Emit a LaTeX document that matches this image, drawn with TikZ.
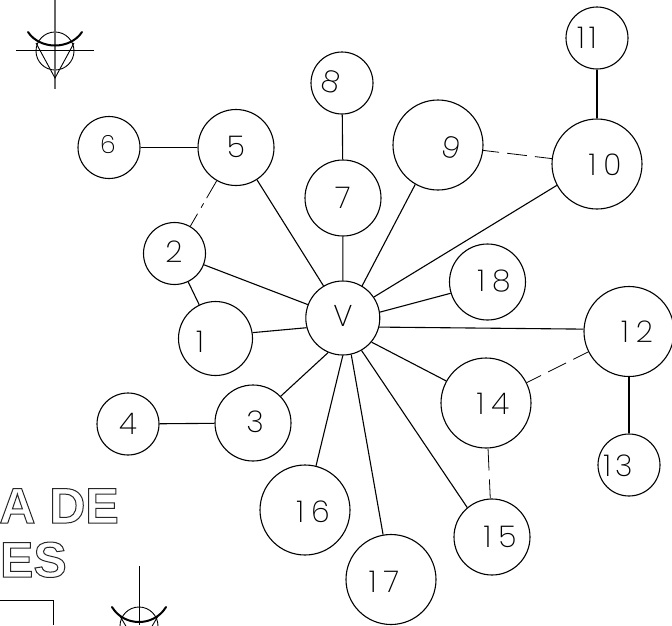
\documentclass[tikz,border=0pt]{standalone}
\usepackage{fontspec}
\setmainfont{Poppins ExtraLight}
\newfontfamily\titlefont{Liberation Sans Bold}
\tikzset{
  circ/.style={circle,draw,line width=1.1pt,inner sep=0pt,fill=white},
  lbl/.style={inner sep=0pt,font=\fontsize{30}{30}\selectfont,color=black},
  solidedge/.style={line width=1.1pt},
  dashedge/.style={line width=0.8pt},
  emblem/.style={line width=0.9pt},
  emblemthick/.style={line width=2pt,line cap=round},
  titletxt/.style={inner sep=0pt,anchor=base east,font=\titlefont\fontsize{50}{50}\selectfont},
}
\newcommand{\nd}[7]{%
  \node[circ,minimum size=#4*2pt] (#1) at (#2,#3) {};
  \node[lbl] (t#1) at (#6,#7) {#5};
}
\newcommand{\outl}[1]{\special{pdf:code q 1 Tr 1 w 0.15 G}#1\special{pdf:code Q}}
\newcommand{\gp}{\hspace{7pt}}
\begin{document}
\begin{tikzpicture}[x=1pt,y=-1pt]
\useasboundingbox (0,0) rectangle (672,625);
\clip (0,0) rectangle (672,625);
\nd{v}{342.8}{318}{37}{V}{343}{316}
\nd{a}{215.5}{338.5}{37}{1}{200}{342}
\nd{b}{174.5}{253.5}{31}{2}{174}{252}
\nd{c}{253}{423}{38}{3}{255}{422}
\nd{d}{128}{424}{31}{4}{128}{424}
\nd{e}{236}{147.5}{38}{5}{236}{147}
\nd{f}{109}{147.5}{31}{\fontsize{25}{25}\selectfont 6}{108}{145}
\nd{g}{343}{198}{38}{7}{343}{198}
\nd{h}{342}{83}{31}{\rotatebox{-15}{8}}{331}{82}
\nd{i}{438}{145}{45}{\rotatebox{-15}{9}}{451}{148}
\nd{j}{597}{164}{45}{1\gp 0}{605}{165}
\nd{k}{597}{38}{31}{1\hspace{4pt}1}{587}{38}
\nd{l}{629}{331.5}{45}{1\gp 2}{637}{332}
\nd{m}{629}{465}{31}{1\hspace{4pt}3}{618}{466}
\nd{n}{486}{403}{45}{1\gp 4}{493}{404}
\nd{o}{492}{537}{38}{1\gp 5}{500}{537}
\nd{p}{305}{510}{45}{1\gp 6}{313}{512}
\nd{q}{391}{579.5}{45}{1\gp 7}{384}{582}
\nd{r}{487.5}{282}{38}{1\gp 8}{494}{281}
\draw[solidedge] (v.195.5) -- (a.9.5);
\draw[solidedge] (v) -- (b);
\draw[solidedge] (v.247) -- (c.44);
\draw[solidedge] (v.121.5) -- (e.-57);
\draw[solidedge] (v) -- (g);
\draw[solidedge] (v.59) -- (i.240);
\draw[solidedge] (v.34) -- (j.208);
\draw[solidedge] (v.-14) -- (l.177.5);
\draw[solidedge] (v.-40) -- (n.151);
\draw[solidedge] (v.-60) -- (o.130);
\draw[solidedge] (v.-90) -- (p.76);
\draw[solidedge] (v.-77) -- (q.100);
\draw[solidedge] (v.9) -- (r.197);
\draw[solidedge] (b) -- (a);
\draw[solidedge] (e) -- (f);
\draw[solidedge] (c) -- (d);
\draw[solidedge] (g) -- (h);
\draw[solidedge] (j) -- (k);
\draw[solidedge] (l) -- (m);
\draw[dashedge,dash pattern=on 20pt off 6pt on 5pt off 7pt on 20pt] (e) -- (b);
\draw[dashedge,dash pattern=on 16pt off 8pt on 20pt off 8pt on 20pt] (i) -- (j);
\draw[dashedge,dash pattern=on 16pt off 8pt on 20pt off 8pt on 20pt] (n) -- (l);
\draw[dashedge,dash pattern=on 22pt off 9pt on 30pt] (n) -- (o);
% emblem top left
\draw[emblem] (55,51) circle (19);
\draw[black!60,line width=1.3pt] (55,0) -- (55,89);
\draw[emblem] (16,50) -- (94,50);
\draw[emblem] (36,43) -- (55,78) -- (74,43);
\draw[emblemthick] (28,32) .. controls (40,50) and (70,50) .. (82,32);
% emblem bottom
\draw[emblem] (139,626) circle (19);
\draw[emblem] (139,566) -- (139,625);
\draw[emblem] (120,616) -- (127,628);
\draw[emblem] (158,616) -- (151,628);
\draw[emblemthick] (112,607) .. controls (124,627) and (154,627) .. (166,607);
% box
\draw[emblem] (0,600) -- (53,600) -- (53,625);
% title
\node[titletxt] (t1) at (119,523) {\outl{A DE}};
\node[titletxt] (t2) at (67,577) {\outl{ES}};
\end{tikzpicture}
\end{document}
